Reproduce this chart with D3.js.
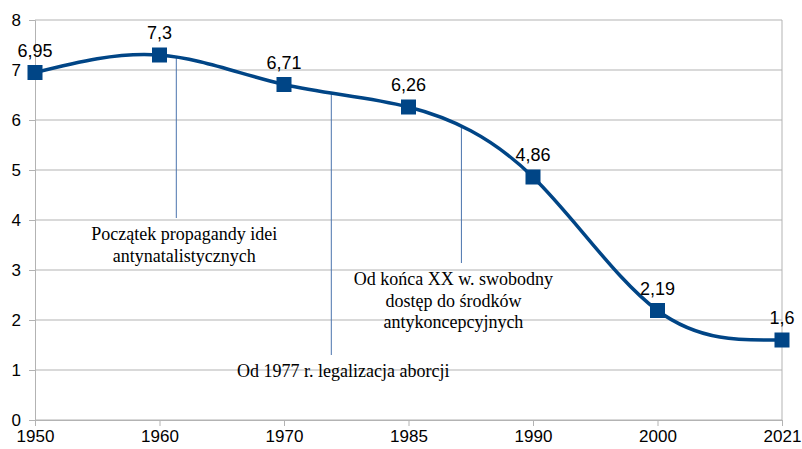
<!DOCTYPE html>
<html>
<head>
<meta charset="utf-8">
<script src="https://cdn.jsdelivr.net/npm/d3@7"></script>
<style>
  body { margin: 0; background: #fff; }
  svg { display: block; }
</style>
</head>
<body>
<svg id="chart" width="802" height="449"></svg>
<script>
// data
let years = ["1950", "1960", "1970", "1985", "1990", "2000", "2021"];
let fertility = [6.95, 7.3, 6.71, 6.26, 4.86, 2.19, 1.6];
let yTicks = [0, 1, 2, 3, 4, 5, 6, 7, 8];

// annotations: position between categories (fractional index), end of the pointer line, text lines
let noteText = [
    ["Początek propagandy idei", "antynatalistycznych"],
    ["Od 1977 r. legalizacja aborcji"],
    ["Od końca XX w. swobodny", "dostęp do środków", "antykoncepcyjnych"]
];
let noteAt = [1.135, 2.38, 3.425];
let noteTop = [7.26, 6.55, 5.88];
let noteBottom = [4.04, 1.3, 3.14];

let svg = d3.select("#chart");
let plotLeft = 35, plotRight = 782, plotTop = 20, plotBottom = 420;
let blue = "#004586", grey = "#b3b3b3";
let sans = "'Liberation Sans', Arial, sans-serif";
let serif = "'Liberation Serif', 'Times New Roman', 'DejaVu Serif', serif";

let x = d3.scalePoint().domain(years).range([plotLeft, plotRight]);
let xi = d3.scaleLinear().domain([0, years.length - 1]).range([plotLeft, plotRight]);
let y = d3.scaleLinear().domain([0, 8]).range([plotBottom, plotTop]);

// gridlines
svg.append("g")
    .selectAll("line")
    .data(yTicks)
    .join("line")
    .attr("x1", plotLeft).attr("x2", plotRight)
    .attr("y1", d => y(d)).attr("y2", d => y(d))
    .attr("stroke", grey).attr("stroke-width", 1);

// right frame
svg.append("line")
    .attr("x1", plotRight).attr("x2", plotRight)
    .attr("y1", plotTop).attr("y2", plotBottom)
    .attr("stroke", grey);

// axes
let yAxis = svg.append("g")
    .attr("transform", `translate(${plotLeft},0)`)
    .call(d3.axisLeft(y).tickValues(yTicks).tickSize(6).tickPadding(8));
let xAxis = svg.append("g")
    .attr("transform", `translate(0,${plotBottom})`)
    .call(d3.axisBottom(x).tickSize(6).tickPadding(4));

[yAxis, xAxis].forEach(a => {
    a.select(".domain").attr("stroke", grey);
    a.selectAll(".tick line").attr("stroke", grey);
    a.selectAll("text")
        .attr("fill", "#000")
        .attr("font-family", sans)
        .attr("font-size", 17);
});

// annotation pointers
svg.append("g")
    .selectAll("line")
    .data(noteAt)
    .join("line")
    .attr("x1", d => xi(d)).attr("x2", d => xi(d))
    .attr("y1", (d, i) => y(noteTop[i]))
    .attr("y2", (d, i) => y(noteBottom[i]))
    .attr("stroke", "#4a74ad").attr("stroke-width", 1);

// annotation texts
let notes = svg.append("g")
    .selectAll("text")
    .data(noteText)
    .join("text")
    .attr("text-anchor", "middle")
    .attr("font-family", serif)
    .attr("font-size", 18)
    .attr("fill", "#000");
let noteShift = [8, 12, -8];
notes.selectAll("tspan")
    .data((d, i) => d.map(t => ({t: t, i: i})))
    .join("tspan")
    .attr("x", d => xi(noteAt[d.i]) + noteShift[d.i])
    .attr("y", (d, j) => y(noteBottom[d.i]) + 22 + j * 21.5)
    .text(d => d.t);

// curve
let line = d3.line()
    .x((d, i) => x(years[i]))
    .y(d => y(d))
    .curve(d3.curveNatural);

svg.append("path")
    .datum(fertility)
    .attr("d", line)
    .attr("fill", "none")
    .attr("stroke", blue)
    .attr("stroke-width", 3.5);

// markers
svg.append("g")
    .selectAll("rect")
    .data(fertility)
    .join("rect")
    .attr("x", (d, i) => x(years[i]) - 7.5)
    .attr("y", d => y(d) - 7.5)
    .attr("width", 15).attr("height", 15)
    .attr("fill", blue);

// value labels
svg.append("g")
    .selectAll("text")
    .data(fertility)
    .join("text")
    .attr("x", (d, i) => x(years[i]))
    .attr("y", d => y(d) - 16)
    .attr("text-anchor", "middle")
    .attr("font-family", sans)
    .attr("font-size", 18)
    .attr("fill", "#000")
    .text(d => String(d).replace(".", ","));
</script>
</body>
</html>
